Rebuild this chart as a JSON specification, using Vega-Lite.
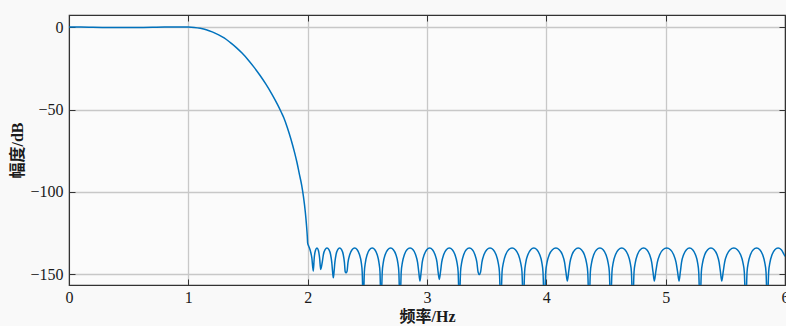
{
  "$schema": "https://vega.github.io/schema/vega-lite/v6.json",
  "width": 716,
  "height": 270,
  "autosize": {"type": "none"},
  "padding": {"left": 69, "top": 15, "right": 1, "bottom": 41},
  "background": "#f9f9f9",
  "config": {
    "view": {"fill": "#fbfbfb", "stroke": "#333333", "strokeWidth": 1.2},
    "axis": {
      "labelFont": "Liberation Serif",
      "labelFontSize": 16,
      "labelColor": "#1a1a1a",
      "domainColor": "#333333",
      "tickColor": "#333333",
      "gridColor": "#c8c8c8",
      "gridWidth": 1.3,
      "titleFont": "Liberation Serif, Noto Sans CJK SC",
      "titleFontSize": 16,
      "titleFontWeight": "bold",
      "titleColor": "#1a1a1a"
    }
  },
  "data": {"values": [
    {"f":0,"db":0},{"f":0.1,"db":-0.05},{"f":0.2,"db":-0.15},{"f":0.3,"db":-0.25},{"f":0.4,"db":-0.3},{"f":0.5,"db":-0.3},{"f":0.6,"db":-0.25},{"f":0.7,"db":-0.15},{"f":0.8,"db":-0.05},{"f":0.9,"db":0},{"f":0.95,"db":0},{"f":1.0,"db":-0.05},
    {"f":1.05,"db":-0.3},{"f":1.1,"db":-0.8},{"f":1.15,"db":-1.6},{"f":1.2,"db":-2.9},{"f":1.25,"db":-4.6},{"f":1.3,"db":-6.6},{"f":1.35,"db":-9.3},{"f":1.4,"db":-12.3},{"f":1.45,"db":-15.8},{"f":1.5,"db":-19.8},{"f":1.55,"db":-24.3},{"f":1.6,"db":-29.2},{"f":1.65,"db":-34.6},{"f":1.7,"db":-40.6},{"f":1.75,"db":-47.3},{"f":1.78,"db":-51.8},{"f":1.8,"db":-55},{"f":1.83,"db":-61},{"f":1.86,"db":-68},{"f":1.89,"db":-76},{"f":1.91,"db":-82},{"f":1.93,"db":-89},{"f":1.95,"db":-96},{"f":1.965,"db":-103},{"f":1.98,"db":-112},{"f":1.99,"db":-120},{"f":1.997,"db":-127},{"f":2.0,"db":-131},
    {"f":2.01,"db":-133},{"f":2.02,"db":-135},{"f":2.035,"db":-140},{"f":2.047,"db":-148},
    {"f":2.055,"db":-140},{"f":2.065,"db":-135.5},{"f":2.078,"db":-134},{"f":2.09,"db":-135.5},{"f":2.1,"db":-140},{"f":2.109,"db":-147},
    {"f":2.122,"db":-142.7},{"f":2.132,"db":-137.9},{"f":2.146,"db":-135},{"f":2.162,"db":-134},{"f":2.178,"db":-135},{"f":2.192,"db":-137.9},{"f":2.202,"db":-142.7},{"f":2.209,"db":-148.5},{"f":2.215,"db":-152},
    {"f":2.221,"db":-148.5},{"f":2.228,"db":-142.7},{"f":2.238,"db":-137.9},{"f":2.252,"db":-135},{"f":2.268,"db":-134},{"f":2.284,"db":-135},{"f":2.298,"db":-137.9},{"f":2.308,"db":-142.7},{"f":2.315,"db":-148.5},{"f":2.321,"db":-149},
    {"f":2.33,"db":-148},{"f":2.338,"db":-142.7},{"f":2.353,"db":-137.9},{"f":2.372,"db":-135},{"f":2.394,"db":-134},{"f":2.415,"db":-135},{"f":2.434,"db":-137.9},{"f":2.449,"db":-142.7},{"f":2.457,"db":-148.5},{"f":2.466,"db":-170},
    {"f":2.475,"db":-148.5},{"f":2.484,"db":-142.7},{"f":2.499,"db":-137.9},{"f":2.518,"db":-135},{"f":2.541,"db":-134},{"f":2.563,"db":-135},{"f":2.582,"db":-137.9},{"f":2.597,"db":-142.7},{"f":2.606,"db":-148.5},{"f":2.615,"db":-170},
    {"f":2.625,"db":-148.5},{"f":2.634,"db":-142.7},{"f":2.65,"db":-137.9},{"f":2.671,"db":-135},{"f":2.695,"db":-134},{"f":2.718,"db":-135},{"f":2.739,"db":-137.9},{"f":2.755,"db":-142.7},{"f":2.764,"db":-148.5},{"f":2.774,"db":-170},
    {"f":2.784,"db":-148.5},{"f":2.794,"db":-142.7},{"f":2.811,"db":-137.9},{"f":2.832,"db":-135},{"f":2.858,"db":-134},{"f":2.883,"db":-135},{"f":2.904,"db":-137.9},{"f":2.921,"db":-142.7},{"f":2.931,"db":-148.5},{"f":2.941,"db":-154},
    {"f":2.951,"db":-148.5},{"f":2.96,"db":-142.7},{"f":2.977,"db":-137.9},{"f":2.998,"db":-135},{"f":3.022,"db":-134},{"f":3.046,"db":-135},{"f":3.067,"db":-137.9},{"f":3.084,"db":-142.7},{"f":3.093,"db":-148.5},{"f":3.103,"db":-153},
    {"f":3.113,"db":-148.5},{"f":3.123,"db":-142.7},{"f":3.14,"db":-137.9},{"f":3.162,"db":-135},{"f":3.187,"db":-134},{"f":3.212,"db":-135},{"f":3.234,"db":-137.9},{"f":3.251,"db":-142.7},{"f":3.261,"db":-148.5},{"f":3.271,"db":-170},
    {"f":3.281,"db":-148.5},{"f":3.291,"db":-142.7},{"f":3.308,"db":-137.9},{"f":3.329,"db":-135},{"f":3.355,"db":-134},{"f":3.38,"db":-135},{"f":3.401,"db":-137.9},{"f":3.418,"db":-142.7},{"f":3.428,"db":-148.5},{"f":3.438,"db":-150},
    {"f":3.449,"db":-148.5},{"f":3.46,"db":-142.7},{"f":3.478,"db":-137.9},{"f":3.501,"db":-135},{"f":3.528,"db":-134},{"f":3.555,"db":-135},{"f":3.578,"db":-137.9},{"f":3.596,"db":-142.7},{"f":3.607,"db":-148.5},{"f":3.618,"db":-170},
    {"f":3.629,"db":-148.5},{"f":3.641,"db":-142.7},{"f":3.66,"db":-137.9},{"f":3.684,"db":-135},{"f":3.713,"db":-134},{"f":3.741,"db":-135},{"f":3.765,"db":-137.9},{"f":3.784,"db":-142.7},{"f":3.796,"db":-148.5},{"f":3.807,"db":-170},
    {"f":3.818,"db":-148.5},{"f":3.828,"db":-142.7},{"f":3.846,"db":-137.9},{"f":3.869,"db":-135},{"f":3.895,"db":-134},{"f":3.921,"db":-135},{"f":3.944,"db":-137.9},{"f":3.962,"db":-142.7},{"f":3.972,"db":-148.5},{"f":3.983,"db":-170},
    {"f":3.995,"db":-148.5},{"f":4.006,"db":-142.7},{"f":4.025,"db":-137.9},{"f":4.051,"db":-135},{"f":4.08,"db":-134},{"f":4.108,"db":-135},{"f":4.134,"db":-137.9},{"f":4.153,"db":-142.7},{"f":4.164,"db":-148.5},{"f":4.176,"db":-154},
    {"f":4.187,"db":-148.5},{"f":4.198,"db":-142.7},{"f":4.216,"db":-137.9},{"f":4.24,"db":-135},{"f":4.267,"db":-134},{"f":4.294,"db":-135},{"f":4.318,"db":-137.9},{"f":4.336,"db":-142.7},{"f":4.347,"db":-148.5},{"f":4.358,"db":-170},
    {"f":4.369,"db":-148.5},{"f":4.38,"db":-142.7},{"f":4.398,"db":-137.9},{"f":4.421,"db":-135},{"f":4.449,"db":-134},{"f":4.476,"db":-135},{"f":4.499,"db":-137.9},{"f":4.517,"db":-142.7},{"f":4.528,"db":-148.5},{"f":4.539,"db":-170},
    {"f":4.55,"db":-148.5},{"f":4.561,"db":-142.7},{"f":4.58,"db":-137.9},{"f":4.604,"db":-135},{"f":4.632,"db":-134},{"f":4.659,"db":-135},{"f":4.683,"db":-137.9},{"f":4.702,"db":-142.7},{"f":4.713,"db":-148.5},{"f":4.724,"db":-170},
    {"f":4.735,"db":-148.5},{"f":4.746,"db":-142.7},{"f":4.764,"db":-137.9},{"f":4.787,"db":-135},{"f":4.815,"db":-134},{"f":4.842,"db":-135},{"f":4.865,"db":-137.9},{"f":4.883,"db":-142.7},{"f":4.894,"db":-148.5},{"f":4.905,"db":-154},
    {"f":4.917,"db":-148.5},{"f":4.93,"db":-142.7},{"f":4.951,"db":-137.9},{"f":4.977,"db":-135},{"f":5.009,"db":-134},{"f":5.04,"db":-135},{"f":5.066,"db":-137.9},{"f":5.087,"db":-142.7},{"f":5.1,"db":-148.5},{"f":5.112,"db":-154},
    {"f":5.123,"db":-148.5},{"f":5.133,"db":-142.7},{"f":5.151,"db":-137.9},{"f":5.174,"db":-135},{"f":5.2,"db":-134},{"f":5.226,"db":-135},{"f":5.249,"db":-137.9},{"f":5.267,"db":-142.7},{"f":5.277,"db":-148.5},{"f":5.288,"db":-170},
    {"f":5.299,"db":-148.5},{"f":5.31,"db":-142.7},{"f":5.328,"db":-137.9},{"f":5.352,"db":-135},{"f":5.379,"db":-134},{"f":5.406,"db":-135},{"f":5.43,"db":-137.9},{"f":5.448,"db":-142.7},{"f":5.459,"db":-148.5},{"f":5.47,"db":-154},
    {"f":5.482,"db":-148.5},{"f":5.494,"db":-142.7},{"f":5.514,"db":-137.9},{"f":5.54,"db":-135},{"f":5.571,"db":-134},{"f":5.601,"db":-135},{"f":5.627,"db":-137.9},{"f":5.647,"db":-142.7},{"f":5.659,"db":-148.5},{"f":5.671,"db":-170},
    {"f":5.682,"db":-148.5},{"f":5.693,"db":-142.7},{"f":5.711,"db":-137.9},{"f":5.734,"db":-135},{"f":5.762,"db":-134},{"f":5.789,"db":-135},{"f":5.812,"db":-137.9},{"f":5.83,"db":-142.7},{"f":5.841,"db":-148.5},{"f":5.852,"db":-170},
    {"f":5.863,"db":-148.5},{"f":5.874,"db":-142.7},{"f":5.892,"db":-137.9},{"f":5.915,"db":-135},{"f":5.942,"db":-134},{"f":5.969,"db":-135},{"f":5.992,"db":-137.9},{"f":6.0,"db":-139}
  ]},
  "layer": [
    {
      "mark": {"type": "line", "color": "#0072BD", "strokeWidth": 1.5, "interpolate": "monotone", "clip": true},
      "encoding": {
        "x": {"field": "f", "type": "quantitative", "scale": {"domain": [0, 6], "nice": false, "zero": false},
          "axis": {"orient": "bottom", "values": [0,1,2,3,4,5,6], "format": "d", "grid": true, "tickSize": -6, "labelPadding": 10, "title": "频率/Hz", "titlePadding": 3, "labelFlush": false}},
        "y": {"field": "db", "type": "quantitative", "scale": {"domain": [-156.4, 7.3], "nice": false, "zero": false},
          "axis": {"orient": "left", "values": [0,-50,-100,-150], "format": "d", "grid": true, "tickSize": -6, "labelPadding": 12, "title": "幅度/dB", "titlePadding": 4}}
      }
    },
    {
      "mark": {"type": "line", "opacity": 0, "clip": true},
      "encoding": {
        "x": {"field": "f", "type": "quantitative", "scale": {"domain": [0, 6], "nice": false, "zero": false},
          "axis": {"orient": "top", "values": [0,1,2,3,4,5,6], "grid": false, "labels": false, "tickSize": -6, "title": null}},
        "y": {"field": "db", "type": "quantitative", "scale": {"domain": [-156.4, 7.3], "nice": false, "zero": false},
          "axis": {"orient": "right", "values": [0,-50,-100,-150], "grid": false, "labels": false, "tickSize": -6, "title": null}}
      }
    }
  ],
  "resolve": {"axis": {"x": "independent", "y": "independent"}}
}
